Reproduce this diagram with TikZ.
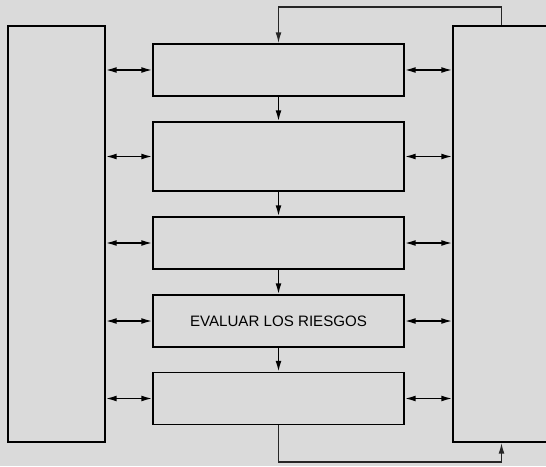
\documentclass[tikz,border=0pt]{standalone}
\usepackage{fontspec}
\setmainfont{Liberation Sans}
\usetikzlibrary{arrows.meta}
\definecolor{paper}{RGB}{218,218,218}

\begin{document}
\begin{tikzpicture}[>={Latex[length=6pt,width=3.3pt]},font=\fontsize{8.6}{10}\selectfont,
  side/.style={draw,line width=1.1pt,minimum width=1.94cm,minimum height=8.32cm,inner sep=0pt},
  stage/.style={draw,line width=1.1pt,minimum width=5.02cm,minimum height=1.04cm,inner sep=0pt},
  link/.style={line width=0.8pt},
  loop/.style={line width=0.7pt,black!85}]
\fill[paper] (0,0) rectangle (10.92,9.32);
\useasboundingbox (0,0) rectangle (10.92,9.32);
\begin{scope}
\clip (0,0) rectangle (10.92,9.32);
\node[side] (left) at (1.13,4.64) {};
\node[side] (right) at (10.03,4.64) {};
\node[stage] (s1) at (5.57,7.92) {};
\node[stage,minimum height=1.38cm] (s2) at (5.57,6.19) {};
\node[stage] (s3) at (5.57,4.46) {};
\node[stage] (s4) at (5.57,2.90) {EVALUAR LOS RIESGOS};
\node[stage] (s5) at (5.57,1.35) {};
\coordinate (fbtop) at (0,9.18);
\coordinate (fbbot) at (0,0.08);
\foreach \s in {s1,s2,s3,s4,s5}{
  \draw[link,<->] (\s.west -| left.east) -- (\s.west);
  \draw[link,<->] (\s.east) -- (\s.east -| right.west);
}
\draw[link,->] (s1.south) -- (s2.north);
\draw[link,->] (s2.south) -- (s3.north);
\draw[link,->] (s3.south) -- (s4.north);
\draw[link,->] (s4.south) -- (s5.north);
\draw[loop,->] (right.north) -- (right.north |- fbtop) -| (s1.north);
\draw[loop,->] (s5.south) -- (s5.south |- fbbot) -| (right.south);
\end{scope}
\end{tikzpicture}
\end{document}
